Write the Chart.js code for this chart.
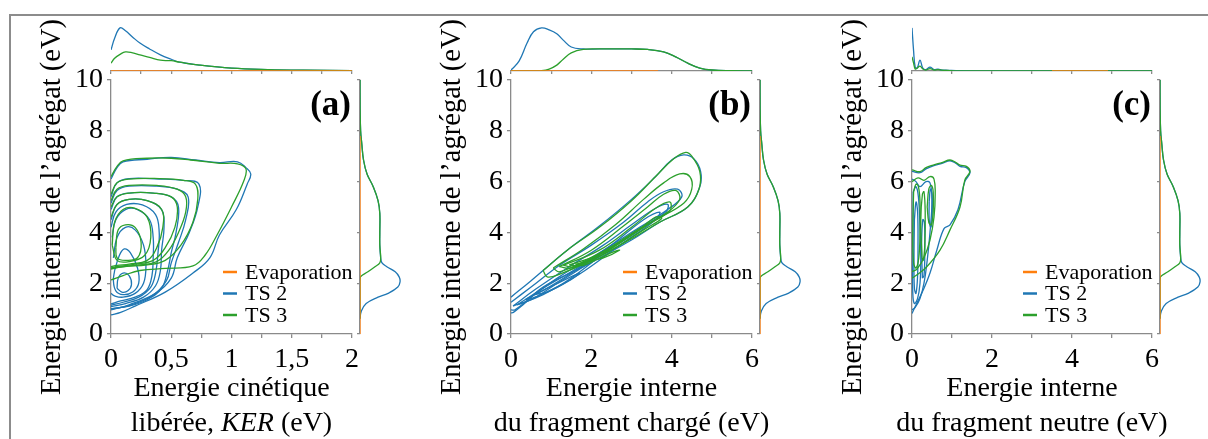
<!DOCTYPE html>
<html>
<head>
<meta charset="utf-8">
<script src="https://cdn.jsdelivr.net/npm/chart.js@4.4.1/dist/chart.umd.min.js"></script>
<style>
  body { margin: 0; background: #fff; }
  #fig { position: relative; width: 1208px; height: 439px; overflow: hidden; background: #fff; }
  #frame { position: absolute; left: 9px; top: 14px; width: 1199px; height: 425px;
           border-top: 2px solid #8c8c8c; border-left: 2px solid #8c8c8c; }
  canvas { position: absolute; }
</style>
</head>
<body>
<div id="fig"><div id="frame"></div></div>
<script>
// ---- data ----
const seriesNames = ['Evaporation', 'TS 2', 'TS 3']
const seriesColors = ['#ff7f0e', '#1f77b4', '#2ca02c']
const panelTags = ['(a)', '(b)', '(c)']

const yTicks = [0, 2, 4, 6, 8, 10]
const xLabelValuesA = [0, 0.5, 1, 1.5, 2]
const xLabelsA = ['0', '0,5', '1', '1,5', '2']
const xLabelValuesBC = [0, 2, 4, 6]
const xLabelsBC = ['0', '2', '4', '6']

// top marginals (density, arbitrary units)
const kerGrid = [0, 0.03, 0.075, 0.12, 0.18, 0.24, 0.32, 0.41, 0.5, 0.57, 0.74, 1.0, 1.3, 1.6, 2.0]
const kerTS2 = [0.43, 0.67, 0.88, 0.82, 0.69, 0.57, 0.45, 0.33, 0.24, 0.18, 0.12, 0.06, 0.03, 0.016, 0.008]
const kerTS3 = [0.16, 0.26, 0.34, 0.39, 0.37, 0.33, 0.28, 0.22, 0.21, 0.18, 0.12, 0.06, 0.03, 0.016, 0.008]

const chargedGrid = [0, 0.2, 0.4, 0.56, 0.76, 0.95, 1.14, 1.3, 1.5, 1.8, 2.2, 2.6, 3.0, 3.4, 3.8, 4.1, 4.4, 4.7, 5.0, 5.5, 6.0]
const chargedTS2 = [0.02, 0.2, 0.57, 0.8, 0.88, 0.84, 0.76, 0.63, 0.49, 0.45, 0.45, 0.45, 0.45, 0.44, 0.39, 0.29, 0.16, 0.06, 0.02, 0.006, 0.002]
const chargedTS3 = [0, 0, 0, 0, 0.005, 0.04, 0.12, 0.24, 0.37, 0.44, 0.45, 0.45, 0.45, 0.44, 0.39, 0.29, 0.16, 0.06, 0.02, 0.006, 0.002]

const neutralGrid = [0, 0.04, 0.08, 0.13, 0.2, 0.27, 0.35, 0.45, 0.55, 0.65, 0.75, 0.9, 1.2, 2, 6]
const neutralTS2 = [0.88, 0.41, 0.08, 0.06, 0.22, 0.06, 0.03, 0.08, 0.03, 0.04, 0.02, 0.014, 0.006, 0.002, 0]
const neutralTS3 = [0.29, 0.16, 0.04, 0.06, 0.1, 0.04, 0.02, 0.05, 0.02, 0.03, 0.016, 0.01, 0.004, 0.002, 0]

const evapSpanA = [0, 2]
const evapSpanB = [0, 3.66]
const evapSpanC = [3.5, 4.9]
const evapSpanE = [0, 7.8]

// right marginal, same in all panels
const energyGrid = [0.6, 0.9, 1.2, 1.45, 1.6, 1.85, 2.05, 2.25, 2.45, 2.65, 2.8, 3.0, 3.5, 4.0, 4.75, 5.25, 5.8, 6.3, 6.85, 7.5, 8.0, 9.0, 10]
const energyTS2 = [0, 0.03, 0.14, 0.41, 0.64, 0.86, 0.91, 0.89, 0.8, 0.61, 0.5, 0.47, 0.45, 0.45, 0.45, 0.41, 0.3, 0.16, 0.08, 0.04, 0.014, 0.002, 0]
const energyTS3 = [0, 0, 0, 0, 0, 0, 0, 0.01, 0.18, 0.34, 0.45, 0.47, 0.45, 0.45, 0.45, 0.41, 0.3, 0.16, 0.08, 0.04, 0.014, 0.002, 0]

// contour lines [x, y]
const contA_TS2 = [
  [[0,6.1],[0.05,6.55],[0.1,6.78],[0.3,6.88],[0.5,6.95],[0.7,6.85],[0.9,6.75],[1.05,6.78],[1.12,6.55],[1.16,6.3],[1.13,5.9],[1.04,4.9],[0.9,3.9],[0.82,3.0],[0.68,2.4],[0.45,1.65],[0.2,1.1],[0.08,0.85],[0,0.75]],
  [[0,5.4],[0.05,5.95],[0.15,6.12],[0.4,6.1],[0.6,6.05],[0.73,5.9],[0.72,5.0],[0.65,4.0],[0.55,3.0],[0.5,2.2],[0.37,1.6],[0.15,1.15],[0,0.95]],
  [[0,5.15],[0.05,5.65],[0.15,5.82],[0.38,5.82],[0.55,5.7],[0.64,5.4],[0.62,4.5],[0.56,3.6],[0.5,2.8],[0.46,2.1],[0.34,1.5],[0.15,1.12],[0,0.98]],
  [[0,4.9],[0.05,5.4],[0.15,5.55],[0.35,5.55],[0.5,5.4],[0.56,5.0],[0.54,4.0],[0.5,3.2],[0.47,2.5],[0.42,1.8],[0.3,1.35],[0.15,1.1],[0,1.0]],
  [[0,4.5],[0.05,5.1],[0.15,5.3],[0.3,5.25],[0.42,4.9],[0.44,4.2],[0.42,3.3],[0.41,2.5],[0.37,1.9],[0.27,1.45],[0.12,1.2],[0,1.08]],
  [[0,4.2],[0.04,4.8],[0.13,5.1],[0.26,5.08],[0.37,4.7],[0.4,4.0],[0.39,3.2],[0.37,2.4],[0.33,1.85],[0.23,1.45],[0.1,1.25],[0,1.13]],
  [[0.01,3.8],[0.04,4.5],[0.12,4.9],[0.22,4.9],[0.32,4.5],[0.35,3.8],[0.35,3.0],[0.34,2.3],[0.3,1.75],[0.2,1.45],[0.08,1.3],[0,1.18]],
  [[0.02,3.0],[0.05,3.8],[0.12,4.2],[0.2,4.1],[0.27,3.5],[0.29,2.7],[0.27,2.0],[0.2,1.6],[0.1,1.45],[0.03,1.5],[0,1.6]],
  [[0.03,2.5],[0.07,3.1],[0.11,3.35],[0.16,3.2],[0.22,2.6],[0.23,2.0],[0.18,1.65],[0.1,1.55],[0.04,1.7],[0.02,2.1],[0.03,2.5]],
  [[0.05,1.8],[0.06,2.2],[0.1,2.4],[0.15,2.3],[0.17,1.95],[0.14,1.7],[0.09,1.65],[0.05,1.8]]
]
const contA_TS3 = [
  [[0,6.19],[0.05,6.6],[0.1,6.82],[0.3,6.92],[0.5,6.92],[0.66,6.85],[0.9,6.72],[1.05,6.7],[1.12,6.5],[1.1,6.0],[1.0,5.0],[0.88,3.9],[0.78,3.1],[0.68,2.68],[0.45,2.58],[0.24,2.5],[0.1,2.3],[0,2.13]],
  [[0,5.5],[0.05,5.95],[0.15,6.1],[0.4,6.12],[0.6,6.05],[0.7,5.9],[0.72,5.3],[0.68,4.4],[0.58,3.5],[0.45,2.9],[0.3,2.72],[0.1,2.65],[0,2.55]],
  [[0,5.25],[0.05,5.7],[0.15,5.85],[0.38,5.85],[0.55,5.7],[0.62,5.4],[0.62,4.8],[0.56,4.0],[0.48,3.3],[0.38,2.85],[0.2,2.7],[0.05,2.62],[0,2.58]],
  [[0,5.0],[0.05,5.4],[0.15,5.55],[0.35,5.55],[0.5,5.4],[0.55,5.0],[0.53,4.2],[0.45,3.4],[0.35,2.9],[0.2,2.75],[0.05,2.65],[0,2.6]],
  [[0,4.6],[0.05,5.1],[0.15,5.3],[0.3,5.25],[0.42,4.9],[0.43,4.2],[0.38,3.4],[0.3,2.9],[0.15,2.75],[0.05,2.7],[0,2.65]],
  [[0.01,3.5],[0.03,4.4],[0.1,4.9],[0.2,4.95],[0.3,4.6],[0.33,3.8],[0.28,3.1],[0.15,2.85],[0.05,2.9],[0.01,3.5]],
  [[0.04,3.4],[0.06,4.1],[0.12,4.3],[0.2,4.2],[0.25,3.6],[0.22,3.0],[0.12,2.9],[0.05,3.0],[0.04,3.4]]
]
const contB_TS2 = [
  [[0,1.45],[0.5,2.1],[1.4,3.3],[2.2,4.25],[3.0,5.3],[3.6,6.2],[4.0,6.85],[4.3,7.05],[4.55,6.9],[4.72,6.4],[4.7,5.8],[4.4,5.0],[3.7,4.4],[3.0,3.7],[1.8,2.65],[0.8,1.85],[0.3,1.15],[0.06,0.85],[0,0.83]],
  [[0,1.25],[0.5,1.85],[1.2,2.7],[2.0,3.5],[2.8,4.4],[3.4,5.2],[3.8,5.6],[4.15,5.7],[4.25,5.4],[3.9,4.9],[3.2,4.2],[2.2,3.2],[1.2,2.25],[0.5,1.45],[0.1,0.95],[0,0.95]],
  [[0.05,1.1],[0.6,1.75],[1.4,2.6],[2.3,3.5],[3.0,4.3],[3.6,4.95],[3.9,5.1],[3.85,4.8],[3.2,4.15],[2.2,3.05],[1.2,2.05],[0.5,1.35],[0.05,1.1]],
  [[0.15,1.15],[0.8,1.8],[1.6,2.55],[2.5,3.5],[3.3,4.5],[3.7,4.8],[3.6,4.5],[2.8,3.6],[1.7,2.35],[0.8,1.55],[0.15,1.15]],
  [[0.35,1.35],[1.0,1.9],[1.8,2.7],[2.2,3.1],[2.0,2.8],[1.3,2.0],[0.6,1.45],[0.35,1.35]],
  [[0.6,1.55],[1.1,1.95],[1.7,2.4],[1.5,2.15],[0.9,1.65],[0.6,1.55]]
]
const contB_TS3 = [
  [[0.8,2.5],[1.4,3.3],[2.2,4.2],[3.0,5.25],[3.6,6.2],[4.05,6.9],[4.35,7.15],[4.5,7.0],[4.7,6.4],[4.68,5.7],[4.4,5.0],[3.7,4.4],[3.0,3.75],[2.0,2.9],[1.2,2.35],[0.9,2.25],[0.8,2.5]],
  [[1.05,2.6],[1.8,3.35],[2.6,4.3],[3.3,5.3],[3.8,5.95],[4.2,6.3],[4.45,6.2],[4.5,5.7],[4.3,5.15],[3.6,4.5],[2.8,3.7],[1.8,2.85],[1.2,2.45],[1.05,2.6]],
  [[1.2,2.65],[2.0,3.3],[2.8,4.25],[3.4,5.0],[3.8,5.5],[4.1,5.65],[4.2,5.3],[3.9,4.8],[3.2,4.15],[2.3,3.25],[1.5,2.6],[1.2,2.65]],
  [[1.3,2.7],[2.2,3.3],[3.0,4.2],[3.6,4.95],[3.95,5.2],[3.95,4.85],[3.4,4.3],[2.5,3.4],[1.6,2.65],[1.3,2.7]],
  [[1.45,2.72],[2.3,3.2],[3.1,4.0],[3.6,4.6],[3.75,4.55],[3.3,4.1],[2.5,3.3],[1.7,2.7],[1.45,2.72]],
  [[1.6,2.75],[2.3,3.0],[2.7,3.3],[2.5,3.2],[1.8,2.7],[1.6,2.75]]
]
const contC_TS2 = [
  [[0,6.4],[0.2,6.35],[0.35,6.5],[0.53,6.62],[0.75,6.72],[0.95,6.82],[1.1,6.72],[1.2,6.6],[1.36,6.55],[1.45,6.35],[1.32,6.0],[1.15,4.9],[0.95,4.3],[0.8,4.15],[0.62,3.3],[0.45,2.4],[0.28,1.73],[0.12,1.21],[0,0.81]],
  [[0,6.1],[0.1,6.0],[0.2,5.8],[0.35,6.0],[0.45,5.95],[0.5,5.3],[0.45,4.0],[0.38,2.9],[0.3,2.0],[0.2,1.4],[0.08,1.05],[0,0.95]],
  [[0.03,5.6],[0.1,5.8],[0.16,5.4],[0.2,4.2],[0.22,3.0],[0.2,2.0],[0.14,1.4],[0.06,1.2],[0.02,1.6],[0.02,3.0],[0.03,5.6]],
  [[0.06,4.5],[0.1,5.2],[0.14,4.8],[0.15,3.5],[0.14,2.3],[0.1,1.6],[0.06,1.8],[0.05,3.0],[0.06,4.5]],
  [[0.43,5.2],[0.46,5.7],[0.5,5.5],[0.5,4.5],[0.47,4.2],[0.43,4.5],[0.43,5.2]],
  [[0.26,2.2],[0.24,3.5],[0.27,4.5],[0.31,4.4],[0.32,3.2],[0.3,2.3],[0.26,2.2]]
]
const contC_TS3 = [
  [[0,6.46],[0.2,6.39],[0.35,6.55],[0.53,6.65],[0.75,6.75],[0.95,6.85],[1.1,6.75],[1.2,6.65],[1.36,6.6],[1.45,6.4],[1.32,6.06],[1.2,5.0],[0.95,4.1],[0.7,3.3],[0.37,2.65],[0.1,2.3],[0,2.2]],
  [[0,6.0],[0.15,6.15],[0.3,6.05],[0.45,6.2],[0.55,6.1],[0.58,5.5],[0.55,4.6],[0.45,3.7],[0.3,3.0],[0.12,2.55],[0,2.45]],
  [[0.04,5.6],[0.1,5.9],[0.16,5.8],[0.2,5.2],[0.2,4.0],[0.17,3.0],[0.1,2.6],[0.04,2.8],[0.02,4.0],[0.04,5.6]],
  [[0.38,5.0],[0.42,5.7],[0.48,5.85],[0.53,5.6],[0.53,4.8],[0.48,4.3],[0.42,4.4],[0.38,5.0]],
  [[0.25,3.0],[0.22,4.5],[0.26,5.5],[0.3,5.6],[0.33,4.8],[0.32,3.5],[0.28,2.9],[0.25,3.0]]
]

// ---- layout ----
const FONT = "'Liberation Serif', 'Times New Roman', serif"
const AXIS = '#8a8a8a'
const panelLeft = [111, 511, 912]
const panelRight = [352, 752, 1152]
const plotTop = 80
const plotBottom = 334

const panels = [
  { xMax: 2, xStep: 0.25, labelValues: xLabelValuesA, labels: xLabelsA,
    title: [[{text: 'Energie cinétique'}], [{text: 'libérée, '}, {text: 'KER', italic: true}, {text: ' (eV)'}]],
    ts2: contA_TS2, ts3: contA_TS3, grid: kerGrid, top2: kerTS2, top3: kerTS3, evap: evapSpanA },
  { xMax: 6, xStep: 1, labelValues: xLabelValuesBC, labels: xLabelsBC,
    title: [[{text: 'Energie interne'}], [{text: 'du fragment chargé (eV)'}]],
    ts2: contB_TS2, ts3: contB_TS3, grid: chargedGrid, top2: chargedTS2, top3: chargedTS3, evap: evapSpanB },
  { xMax: 6, xStep: 1, labelValues: xLabelValuesBC, labels: xLabelsBC,
    title: [[{text: 'Energie interne'}], [{text: 'du fragment neutre (eV)'}]],
    ts2: contC_TS2, ts3: contC_TS3, grid: neutralGrid, top2: neutralTS2, top3: neutralTS3, evap: evapSpanC }
]

function addCanvas(left, top, w, h) {
  let c = document.createElement('canvas')
  c.width = w
  c.height = h
  c.style.left = left + 'px'
  c.style.top = top + 'px'
  c.style.width = w + 'px'
  c.style.height = h + 'px'
  document.getElementById('fig').append(c)
  return c
}

function toPoints(pairs) {
  return pairs.map(p => ({x: p[0], y: p[1]}))
}

function lineSet(points, color, order) {
  return { data: points, borderColor: color, backgroundColor: color, showLine: true,
           pointRadius: 0, borderWidth: 1.3, tension: 0.4, order: order }
}

// two-line x title, with italic parts
const axisTitlePlugin = {
  id: 'axisTitle',
  afterDraw(chart, args, opts) {
    let ctx = chart.ctx
    let a = chart.chartArea
    let cx = (a.left + a.right) / 2
    ctx.save()
    ctx.fillStyle = '#000'
    ctx.textBaseline = 'alphabetic'
    ctx.textAlign = 'left'
    opts.lines.forEach((parts, i) => {
      let widths = parts.map(pt => {
        ctx.font = (pt.italic ? 'italic ' : '') + opts.size + 'px ' + FONT
        return ctx.measureText(pt.text).width
      })
      let total = widths.reduce((s, w) => s + w, 0)
      let x = cx - total / 2
      parts.forEach((pt, j) => {
        ctx.font = (pt.italic ? 'italic ' : '') + opts.size + 'px ' + FONT
        ctx.fillText(pt.text, x, opts.baselines[i])
        x += widths[j]
      })
    })
    ctx.restore()
  }
}

// legend + panel tag inside the plot area
const keyPlugin = {
  id: 'seriesKey',
  afterDraw(chart, args, opts) {
    let ctx = chart.ctx
    let a = chart.chartArea
    ctx.save()
    ctx.textBaseline = 'middle'
    ctx.textAlign = 'left'
    ctx.font = '22px ' + FONT
    seriesNames.forEach((name, i) => {
      let y = opts.rows[i]
      ctx.strokeStyle = seriesColors[i]
      ctx.lineWidth = 2.5
      ctx.beginPath()
      ctx.moveTo(a.right - 129, y)
      ctx.lineTo(a.right - 115, y)
      ctx.stroke()
      ctx.fillStyle = '#000'
      ctx.fillText(name, a.right - 107, y + 1)
    })
    ctx.textAlign = 'right'
    ctx.font = 'bold 35px ' + FONT
    ctx.fillText(opts.tag, a.right - 1, 106)
    ctx.restore()
  }
}

function mainChart(p, i) {
  let L = panelLeft[i], R = panelRight[i]
  let c = addCanvas(L - 91, 0, R - L + 111, 439)
  let datasets = []
  p.ts3.forEach(cont => datasets.push(lineSet(toPoints(cont), seriesColors[2], 0)))
  p.ts2.forEach(cont => datasets.push(lineSet(toPoints(cont), seriesColors[1], 1)))
  new Chart(c, {
    type: 'scatter',
    data: { datasets: datasets },
    options: {
      responsive: false, animation: false, devicePixelRatio: 1,
      layout: { padding: { left: 0, top: plotTop, right: 20, bottom: 0 } },
      plugins: {
        legend: { display: false }, tooltip: { enabled: false },
        axisTitle: { lines: p.title, baselines: [396, 431], size: 28 },
        seriesKey: { rows: [272, 293.5, 315], tag: panelTags[i] }
      },
      scales: {
        x: {
          type: 'linear', min: 0, max: p.xMax,
          afterFit: s => { s.height = 439 - plotBottom },
          border: { color: AXIS, width: 1.3 },
          grid: { drawOnChartArea: false, color: AXIS, tickLength: 4, lineWidth: 1.3 },
          ticks: {
            stepSize: p.xStep, autoSkip: false, maxRotation: 0, padding: 5, color: '#000',
            font: { family: FONT, size: 28 },
            callback: v => {
              let k = p.labelValues.findIndex(lv => Math.abs(lv - v) < 1e-6)
              return k >= 0 ? p.labels[k] : ''
            }
          }
        },
        y: {
          min: 0, max: 10,
          afterFit: s => { s.width = 91 },
          border: { color: AXIS, width: 1.3 },
          grid: { drawOnChartArea: false, color: AXIS, tickLength: 4, lineWidth: 1.3 },
          afterBuildTicks: s => { s.ticks = yTicks.map(v => ({value: v})) },
          ticks: { padding: 4, color: '#000', font: { family: FONT, size: 28 } },
          title: { display: true, text: 'Energie interne de l’agrégat (eV)', color: '#000',
                   font: { family: FONT, size: 28.5 }, padding: { top: 15, bottom: 0 } }
        }
      }
    },
    plugins: [axisTitlePlugin, keyPlugin]
  })
}

function topChart(p, i) {
  let L = panelLeft[i], R = panelRight[i]
  let c = addCanvas(L - 3, 0, R - L + 6, plotTop)
  let ts2 = p.grid.map((x, k) => ({x: x, y: p.top2[k]}))
  let ts3 = p.grid.map((x, k) => ({x: x, y: p.top3[k]}))
  let evap = p.evap.map(x => ({x: x, y: 0}))
  new Chart(c, {
    type: 'scatter',
    data: { datasets: [
      lineSet(evap, seriesColors[0], 0),
      lineSet(ts3, seriesColors[2], 1),
      lineSet(ts2, seriesColors[1], 2)
    ] },
    options: {
      responsive: false, animation: false, devicePixelRatio: 1,
      layout: { padding: { left: 3, right: 3, top: 22, bottom: 9 } },
      plugins: { legend: { display: false }, tooltip: { enabled: false } },
      scales: {
        x: {
          min: 0, max: p.xMax,
          afterFit: s => { s.height = 0 },
          border: { color: AXIS, width: 1.3 },
          grid: { drawOnChartArea: false, color: AXIS, tickLength: 3, lineWidth: 1.3 },
          ticks: { display: false, stepSize: p.xStep }
        },
        y: { display: false, min: 0, max: 1 }
      }
    }
  })
}

function rightChart(p, i) {
  let R = panelRight[i]
  let c = addCanvas(R, 0, 60, 439)
  let ts2 = energyGrid.map((e, k) => ({x: energyTS2[k], y: e}))
  let ts3 = energyGrid.map((e, k) => ({x: energyTS3[k], y: e}))
  let evap = evapSpanE.map(e => ({x: 0, y: e}))
  new Chart(c, {
    type: 'scatter',
    data: { datasets: [
      lineSet(evap, seriesColors[0], 0),
      lineSet(ts3, seriesColors[2], 1),
      lineSet(ts2, seriesColors[1], 2)
    ] },
    options: {
      responsive: false, animation: false, devicePixelRatio: 1,
      layout: { padding: { left: 0, right: 8, top: plotTop, bottom: 439 - plotBottom } },
      plugins: { legend: { display: false }, tooltip: { enabled: false } },
      scales: {
        x: { display: false, min: 0, max: 1 },
        y: {
          min: 0, max: 10, position: 'left',
          afterFit: s => { s.width = 8 },
          border: { color: AXIS, width: 1.3 },
          grid: { drawOnChartArea: false, color: AXIS, tickLength: 3, lineWidth: 1.3 },
          ticks: { display: false, stepSize: 2 }
        }
      }
    }
  })
}

panels.forEach((p, i) => {
  mainChart(p, i)
  topChart(p, i)
  rightChart(p, i)
})
</script>
</body>
</html>
